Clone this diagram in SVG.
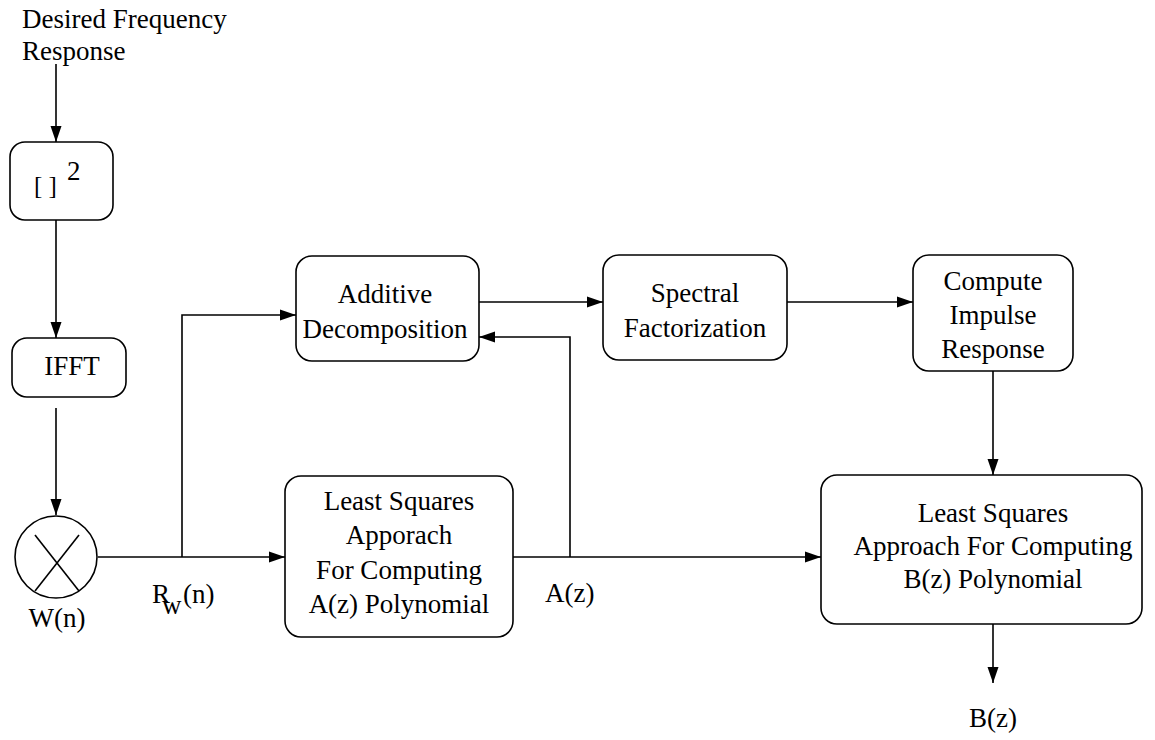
<svg xmlns="http://www.w3.org/2000/svg" width="1155" height="740" viewBox="0 0 1155 740">
  <style>
    .box { fill: #ffffff; stroke: #000000; stroke-width: 1.6; }
    .wire { fill: none; stroke: #000000; stroke-width: 1.6; }
    .lbl { font-family: "Liberation Serif", "Times New Roman", serif; font-size: 27px; fill: #000000; }
    .mid { text-anchor: middle; }
  </style>
  <defs>
    <marker id="arrow" markerUnits="userSpaceOnUse" markerWidth="17" markerHeight="12" refX="16" refY="6" orient="auto">
      <path d="M0,0.5 L16,6 L0,11.5 Z" fill="#000000"/>
    </marker>
  </defs>

  <rect width="1155" height="740" fill="#ffffff"/>

  <!-- input label -->
  <g id="input">
    <text class="lbl" x="22" y="28">Desired Frequency</text>
    <text class="lbl" x="22" y="60">Response</text>
  </g>

  <!-- connectors -->
  <g id="connectors">
    <line class="wire" x1="56" y1="64" x2="56" y2="142" marker-end="url(#arrow)"/>
    <line class="wire" x1="56" y1="220" x2="56" y2="338" marker-end="url(#arrow)"/>
    <line class="wire" x1="56" y1="408" x2="56" y2="515" marker-end="url(#arrow)"/>
    <line class="wire" x1="98" y1="557" x2="285" y2="557" marker-end="url(#arrow)"/>
    <polyline class="wire" points="182,557 182,315 296,315" marker-end="url(#arrow)"/>
    <line class="wire" x1="479" y1="302" x2="603" y2="302" marker-end="url(#arrow)"/>
    <line class="wire" x1="787" y1="302" x2="913" y2="302" marker-end="url(#arrow)"/>
    <line class="wire" x1="993" y1="371" x2="993" y2="475" marker-end="url(#arrow)"/>
    <line class="wire" x1="513" y1="557" x2="821" y2="557" marker-end="url(#arrow)"/>
    <polyline class="wire" points="570,557 570,337 479,337" marker-end="url(#arrow)"/>
    <line class="wire" x1="993" y1="624" x2="993" y2="683" marker-end="url(#arrow)"/>
  </g>

  <!-- squaring block -->
  <g id="square">
    <rect class="box" x="10" y="142" width="103" height="78" rx="15"/>
    <text class="lbl" x="34" y="194" style="font-size:25px">[ ]</text>
    <text class="lbl" x="67" y="180">2</text>
  </g>

  <g id="ifft">
    <rect class="box" x="12" y="338" width="114" height="59" rx="15"/>
    <text class="lbl mid" x="72" y="375">IFFT</text>
  </g>

  <!-- windowing multiplier -->
  <g id="multiplier">
    <circle class="box" cx="56" cy="557" r="41"/>
    <line class="wire" x1="35" y1="535" x2="79" y2="591"/>
    <line class="wire" x1="79" y1="535" x2="35" y2="591"/>
    <text class="lbl mid" x="57" y="627">W(n)</text>
  </g>

  <g id="rw-label">
    <text class="lbl" x="152" y="603">R<tspan x="162" dy="11">w</tspan><tspan x="183" dy="-11">(n)</tspan></text>
  </g>

  <g id="additive">
    <rect class="box" x="296" y="256" width="183" height="105" rx="16"/>
    <text class="lbl mid" x="385" y="303">Additive</text>
    <text class="lbl mid" x="385" y="338">Decomposition</text>
  </g>

  <g id="spectral">
    <rect class="box" x="603" y="255" width="184" height="105" rx="16"/>
    <text class="lbl mid" x="695" y="302">Spectral</text>
    <text class="lbl mid" x="695" y="337">Factorization</text>
  </g>

  <g id="impulse">
    <rect class="box" x="913" y="255" width="160" height="116" rx="16"/>
    <text class="lbl mid" x="993" y="290">Compute</text>
    <text class="lbl mid" x="993" y="324">Impulse</text>
    <text class="lbl mid" x="993" y="358">Response</text>
  </g>

  <g id="ls-a">
    <rect class="box" x="285" y="476" width="228" height="161" rx="16"/>
    <text class="lbl mid" x="399" y="510">Least Squares</text>
    <text class="lbl mid" x="399" y="544">Apporach</text>
    <text class="lbl mid" x="399" y="579">For Computing</text>
    <text class="lbl mid" x="399" y="613">A(z) Polynomial</text>
  </g>

  <g id="az-label">
    <text class="lbl" x="545" y="602">A(z)</text>
  </g>

  <g id="ls-b">
    <rect class="box" x="821" y="475" width="321" height="149" rx="16"/>
    <text class="lbl mid" x="993" y="522">Least Squares</text>
    <text class="lbl mid" x="993" y="555">Approach For Computing</text>
    <text class="lbl mid" x="993" y="588">B(z) Polynomial</text>
  </g>

  <g id="output">
    <text class="lbl mid" x="993" y="727">B(z)</text>
  </g>
</svg>
